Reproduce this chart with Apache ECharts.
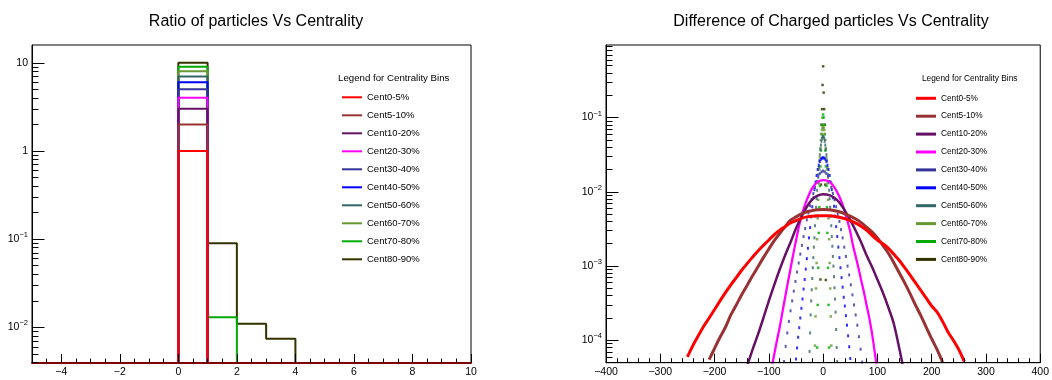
<!DOCTYPE html>
<html><head><meta charset="utf-8">
<script src="https://cdn.jsdelivr.net/npm/echarts@6/dist/echarts.min.js"></script>
<style>html,body{margin:0;padding:0;background:#fff}#c{width:1052px;height:380px}</style>
</head><body><div id="c"></div>
<script>
// ---------- categories & colours ----------
const centralityBins = ['Cent0-5%','Cent5-10%','Cent10-20%','Cent20-30%','Cent30-40%','Cent40-50%','Cent50-60%','Cent60-70%','Cent70-80%','Cent80-90%'];
const centralityColors = ['#ff0000','#993333','#661166','#ff00ff','#333399','#0000ff','#336666','#669933','#00aa00','#333300'];

// ---------- left panel: ratio histograms (bins of width 1 from -5 to 10) ----------
const ratioBinEdges = [-5,-4,-3,-2,-1,0,1,2,3,4,5,6,7,8,9,10];
const ratioCent0_5   = [0,0,0,0,0,1,0,0,0,0,0,0,0,0,0];
const ratioCent5_10  = [0,0,0,0,0,2,0,0,0,0,0,0,0,0,0];
const ratioCent10_20 = [0,0,0,0,0,3,0,0,0,0,0,0,0,0,0];
const ratioCent20_30 = [0,0,0,0,0,4,0,0,0,0,0,0,0,0,0];
const ratioCent30_40 = [0,0,0,0,0,5,0,0,0,0,0,0,0,0,0];
const ratioCent40_50 = [0,0,0,0,0,6,0,0,0,0,0,0,0,0,0];
const ratioCent50_60 = [0,0,0,0,0,7,0,0,0,0,0,0,0,0,0];
const ratioCent60_70 = [0,0,0,0,0,8,0,0,0,0,0,0,0,0,0];
const ratioCent70_80 = [0,0,0,0,0,9,0.013,0,0,0,0,0,0,0,0];
const ratioCent80_90 = [0,0,0,0,0,10,0.09,0.011,0.0074,0,0,0,0,0,0];
const ratioValues = [ratioCent0_5,ratioCent5_10,ratioCent10_20,ratioCent20_30,ratioCent30_40,ratioCent40_50,ratioCent50_60,ratioCent60_70,ratioCent70_80,ratioCent80_90];

const ratioXLabels = [-4,-2,0,2,4,6,8,10];
const ratioXMinorTicks = [-5,-4.5,-3.5,-3,-2.5,-1.5,-1,-0.5,0.5,1,1.5,2.5,3,3.5,4.5,5,5.5,6.5,7,7.5,8.5,9,9.5];
const ratioYLabels = [0.01,0.1,1,10];
const ratioYMinorTicks = [0.004,0.005,0.006,0.007,0.008,0.009,0.02,0.03,0.04,0.05,0.06,0.07,0.08,0.09,0.2,0.3,0.4,0.5,0.6,0.7,0.8,0.9,2,3,4,5,6,7,8,9];

// ---------- right panel: difference of charged particles ----------
const diffX_c0 = [-250,-240,-230,-220,-210,-200,-190,-180,-170,-160,-150,-140,-130,-120,-110,-100,-90,-80,-70,-60,-50,-40,-30,-20,-10,0,10,20,30,40,50,60,70,80,90,100,110,120,130,140,150,160,170,180,190,200,210,220,230,240,250,260];
const diffY_c0 = [6.0e-5,8.5e-5,1.15e-4,1.55e-4,2.0e-4,2.6e-4,3.4e-4,4.4e-4,5.6e-4,7.0e-4,8.8e-4,1.08e-3,1.32e-3,1.6e-3,1.9e-3,2.25e-3,2.65e-3,3.05e-3,3.4e-3,3.8e-3,4.1e-3,4.4e-3,4.6e-3,4.7e-3,4.75e-3,4.75e-3,4.75e-3,4.7e-3,4.55e-3,4.35e-3,4.1e-3,3.8e-3,3.45e-3,3.05e-3,2.6e-3,2.25e-3,2.0e-3,1.75e-3,1.45e-3,1.2e-3,9.6e-4,7.6e-4,6.0e-4,4.7e-4,3.7e-4,2.9e-4,2.4e-4,1.8e-4,1.3e-4,1.0e-4,7.5e-5,5.2e-5];
const diffX_c5 = [-210,-200,-190,-180,-170,-160,-150,-140,-130,-120,-110,-100,-90,-80,-70,-60,-50,-40,-30,-20,-10,0,10,20,30,40,50,60,70,80,90,100,110,120,130,140,150,160,170,180,190,200,210,220];
const diffY_c5 = [5.5e-5,7.8e-5,1.1e-4,1.5e-4,2.2e-4,3.0e-4,4.1e-4,5.5e-4,7.4e-4,9.8e-4,1.3e-3,1.7e-3,2.2e-3,2.75e-3,3.4e-3,4.15e-3,4.6e-3,5.05e-3,5.4e-3,5.6e-3,5.75e-3,5.8e-3,5.75e-3,5.6e-3,5.4e-3,5.05e-3,4.7e-3,4.3e-3,3.85e-3,3.35e-3,2.9e-3,2.4e-3,1.9e-3,1.5e-3,1.12e-3,8.2e-4,6.0e-4,4.3e-4,3.0e-4,2.15e-4,1.5e-4,1.05e-4,7.5e-5,5.1e-5];
const diffX_c10 = [-140,-130,-120,-110,-100,-90,-80,-70,-60,-50,-40,-30,-20,-10,0,10,20,30,40,50,60,70,80,90,100,110,120,130,140,150];
const diffY_c10 = [4.5e-5,7.5e-5,1.2e-4,2.0e-4,3.4e-4,5.6e-4,9.0e-4,1.4e-3,2.1e-3,3.2e-3,4.6e-3,6.3e-3,7.9e-3,8.9e-3,9.3e-3,9.1e-3,8.4e-3,7.2e-3,5.6e-3,4.2e-3,3.0e-3,2.1e-3,1.4e-3,9.8e-4,6.6e-4,4.4e-4,2.8e-4,1.7e-4,8.0e-5,3.5e-5];
const diffX_c20 = [-95,-90,-85,-80,-75,-70,-65,-60,-55,-50,-45,-40,-35,-30,-25,-20,-15,-10,-5,0,5,10,15,20,25,30,35,40,45,50,55,60,65,70,75,80,85,90,95,100];
const diffY_c20 = [4.2e-5,6.5e-5,1.0e-4,1.5e-4,2.4e-4,3.8e-4,6.0e-4,9.3e-4,1.45e-3,2.2e-3,3.3e-3,4.7e-3,6.2e-3,7.8e-3,9.5e-3,1.12e-2,1.26e-2,1.36e-2,1.42e-2,1.44e-2,1.43e-2,1.39e-2,1.30e-2,1.17e-2,1.02e-2,8.6e-3,7.0e-3,5.4e-3,4.0e-3,2.9e-3,1.9e-3,1.35e-3,9.5e-4,6.5e-4,4.5e-4,3.0e-4,2.0e-4,1.25e-4,7.0e-5,3.8e-5];
const diffX_c30 = [-72,-69,-66,-63,-60,-57,-54,-51,-48,-45,-42,-39,-36,-33,-30,-27,-24,-21,-18,-15,-12,-9,-6,-3,0,3,6,9,12,15,18,21,24,27,30,33,36,39,42,45,48,51,54,57,60,63,66,69,72];
const diffY_c30 = [5.2e-5,8.3e-5,1.26e-4,1.8e-4,2.5e-4,3.4e-4,4.6e-4,6.2e-4,8.3e-4,1.1e-3,1.45e-3,1.9e-3,2.5e-3,3.2e-3,4.2e-3,5.2e-3,6.5e-3,7.9e-3,9.5e-3,1.15e-2,1.38e-2,1.58e-2,1.76e-2,1.86e-2,1.91e-2,1.86e-2,1.76e-2,1.58e-2,1.38e-2,1.15e-2,9.5e-3,7.8e-3,6.3e-3,5.0e-3,4.0e-3,3.1e-3,2.4e-3,1.8e-3,1.35e-3,1.0e-3,7.6e-4,5.6e-4,4.1e-4,3.0e-4,2.2e-4,1.6e-4,1.12e-4,7.6e-5,5.1e-5];
const diffX_c40 = [-50,-48,-46,-44,-42,-40,-38,-36,-34,-32,-30,-28,-26,-24,-22,-20,-18,-16,-14,-12,-10,-8,-6,-4,-2,0,2,4,6,8,10,12,14,16,18,20,22,24,26,28,30,32,34,36,38,40,42,44,46,48,50];
const diffY_c40 = [5.6e-5,7.9e-5,1.1e-4,1.48e-4,2.0e-4,2.7e-4,3.6e-4,4.9e-4,6.6e-4,9.1e-4,1.26e-3,1.74e-3,2.4e-3,3.3e-3,4.6e-3,6.3e-3,8.3e-3,1.07e-2,1.35e-2,1.66e-2,2.0e-2,2.29e-2,2.57e-2,2.75e-2,2.85e-2,2.88e-2,2.85e-2,2.75e-2,2.57e-2,2.29e-2,2.0e-2,1.66e-2,1.35e-2,1.07e-2,8.3e-3,6.4e-3,4.7e-3,3.4e-3,2.5e-3,1.8e-3,1.3e-3,9.5e-4,7.0e-4,5.2e-4,3.8e-4,2.9e-4,2.15e-4,1.6e-4,1.15e-4,8.2e-5,5.7e-5];
const diffX_c50 = [-25,-24,-23,-22,-21,-20,-19,-18,-17,-16,-15,-14,-13,-12,-11,-10,-9,-8,-7,-6,-5,-4,-3,-2,-1,0,1,2,3,4,5,6,7,8,9,10,11,12,13,14,15,16,17,18,19,20,21,22,23,24,25,26];
const diffY_c50 = [7.1e-5,1.26e-4,2.2e-4,3.4e-4,4.8e-4,6.8e-4,9.5e-4,1.3e-3,1.8e-3,2.4e-3,3.5e-3,4.7e-3,6.2e-3,8.1e-3,1.05e-2,1.35e-2,1.7e-2,2.14e-2,2.63e-2,3.16e-2,3.72e-2,4.27e-2,4.8e-2,5.25e-2,5.5e-2,5.6e-2,5.5e-2,5.25e-2,4.8e-2,4.27e-2,3.72e-2,3.16e-2,2.63e-2,2.14e-2,1.7e-2,1.35e-2,1.05e-2,8.1e-3,6.2e-3,4.7e-3,3.5e-3,2.5e-3,1.85e-3,1.35e-3,1.0e-3,7.2e-4,5.1e-4,3.6e-4,2.4e-4,1.4e-4,8.0e-5,5.2e-5];
const diffX_c60 = [-15,-14,-13,-12,-11,-10,-9,-8,-7,-6,-5,-4,-3,-2,-1,0,1,2,3,4,5,6,7,8,9,10,11,12,13,14,15];
const diffY_c60 = [8.5e-5,2.1e-4,5.0e-4,1.1e-3,2.3e-3,4.4e-3,7.8e-3,1.3e-2,2.0e-2,2.9e-2,3.9e-2,5.0e-2,6.0e-2,6.8e-2,7.3e-2,7.5e-2,7.3e-2,6.8e-2,6.0e-2,5.0e-2,3.9e-2,2.9e-2,2.0e-2,1.3e-2,7.8e-3,4.4e-3,2.3e-3,1.1e-3,5.0e-4,2.1e-4,8.5e-5];
const diffX_c70 = [-11,-10,-9,-8,-7,-6,-5,-4,-3,-2,-1,0,1,2,3,4,5,6,7,8,9,10,11];
const diffY_c70 = [8.0e-5,3.0e-4,9.5e-4,2.8e-3,6.2e-3,1.2e-2,2.2e-2,3.6e-2,6.0e-2,8.0e-2,1.0e-1,1.1e-1,1.0e-1,8.0e-2,6.0e-2,3.6e-2,2.2e-2,1.2e-2,6.2e-3,2.8e-3,9.5e-4,3.0e-4,8.0e-5];
const diffX_c80 = [-5,-4,-3,-2,-1,0,1,2,3,4,5];
const diffY_c80 = [6.6e-4,1.25e-2,8.0e-2,1.3e-1,2.75e-1,4.9e-1,2.17e-1,1.3e-1,8.0e-2,1.25e-2,6.5e-4];
const diffXs = [diffX_c0,diffX_c5,diffX_c10,diffX_c20,diffX_c30,diffX_c40,diffX_c50,diffX_c60,diffX_c70,diffX_c80];
const diffYs = [diffY_c0,diffY_c5,diffY_c10,diffY_c20,diffY_c30,diffY_c40,diffY_c50,diffY_c60,diffY_c70,diffY_c80];

const diffXLabels = [-400,-300,-200,-100,0,100,200,300,400];
const diffXMinorTicks = [-380,-360,-340,-320,-280,-260,-240,-220,-180,-160,-140,-120,-80,-60,-40,-20,20,40,60,80,120,140,160,180,220,240,260,280,320,340,360,380];
const diffYLabels = [1e-4,1e-3,1e-2,1e-1];
const diffYMinorTicks = [6e-5,7e-5,8e-5,9e-5,2e-4,3e-4,4e-4,5e-4,6e-4,7e-4,8e-4,9e-4,2e-3,3e-3,4e-3,5e-3,6e-3,7e-3,8e-3,9e-3,2e-2,3e-2,4e-2,5e-2,6e-2,7e-2,8e-2,9e-2,0.2,0.3,0.4,0.5,0.6,0.7,0.8,0.9];

// ---------- build ----------
const FONT = 'Liberation Sans';
const leftYMin = 0.00394, leftYMax = 15.9;
const rightYMin = 5e-5, rightYMax = 0.95;

function histOutline(edges, vals, floor) {
  const pts = [];
  for (let i = 0; i < vals.length; i++) {
    const v = vals[i] > 0 ? vals[i] : floor;
    pts.push([edges[i], v], [edges[i + 1], v]);
  }
  return pts;
}
function minusFmt(v) { return String(v).replace('-', '\u2212'); }
function logFmt(v) {
  const e = Math.round(Math.log10(v));
  if (e === 0) return '1';
  if (e === 1) return '10';
  return '10{s|\u2212' + (-e) + '}';
}
const labelStyle = { fontFamily: FONT, fontSize: 10.5, color: '#000' };

function xAxes(grid, min, max, labels, minor, majorLine) {
  return [
    { gridIndex: grid, type: 'value', min, max, position: 'bottom', z: 5,
      axisLine: { show: true, onZero: false, lineStyle: majorLine },
      axisTick: { show: true, inside: true, length: 9, customValues: labels, lineStyle: { color: '#000', width: 1 } },
      axisLabel: Object.assign({ customValues: labels, margin: 4, formatter: minusFmt, showMinLabel: true, showMaxLabel: true }, labelStyle),
      splitLine: { show: false } },
    { gridIndex: grid, type: 'value', min, max, position: 'bottom', z: 5,
      axisLine: { show: false, onZero: false },
      axisTick: { show: true, inside: true, length: 4.5, customValues: minor, lineStyle: { color: '#000', width: 1 } },
      axisLabel: { show: false }, splitLine: { show: false } }
  ];
}
function yAxes(grid, min, max, labels, minor) {
  return [
    { gridIndex: grid, type: 'log', logBase: 10, min, max, position: 'left', z: 5,
      axisLine: { show: true, onZero: false, lineStyle: { color: '#000', width: 1 } },
      axisTick: { show: true, inside: true, length: 12.5, customValues: labels, lineStyle: { color: '#000', width: 1 } },
      axisLabel: Object.assign({ customValues: labels, margin: 4, formatter: logFmt, lineHeight: 16,
        rich: { s: { fontFamily: FONT, fontSize: 7.5, color: '#000', verticalAlign: 'top', lineHeight: 16 } } }, labelStyle),
      splitLine: { show: false } },
    { gridIndex: grid, type: 'log', logBase: 10, min, max, position: 'left', z: 5,
      axisLine: { show: false, onZero: false },
      axisTick: { show: true, inside: true, length: 6.5, customValues: minor, lineStyle: { color: '#000', width: 1 } },
      axisLabel: { show: false }, splitLine: { show: false } }
  ];
}

const series = [];
// draw peripheral first, central last (red on top)
for (let k = centralityBins.length - 1; k >= 0; k--) {
  series.push({
    name: centralityBins[k], type: 'line', xAxisIndex: 0, yAxisIndex: 0,
    data: histOutline(ratioBinEdges, ratioValues[k], leftYMin),
    showSymbol: false, symbol: 'none', clip: true, animation: false,
    lineStyle: { color: centralityColors[k], width: 2 }, itemStyle: { color: centralityColors[k] }
  });
}
const lineIdx = [0, 1, 2, 3];
const lineWidths = [3, 3, 2.5, 2.3];
for (let k = centralityBins.length - 1; k >= 0; k--) {
  const data = diffXs[k].map((x, i) => [x, diffYs[k][i]]);
  if (lineIdx.includes(k)) {
    series.push({
      name: centralityBins[k], type: 'line', xAxisIndex: 2, yAxisIndex: 2, data,
      showSymbol: false, symbol: 'none', clip: true, animation: false, smooth: 0.3,
      lineStyle: { color: centralityColors[k], width: lineWidths[k] }, itemStyle: { color: centralityColors[k] }
    });
  } else {
    series.push({
      name: centralityBins[k], type: 'scatter', xAxisIndex: 2, yAxisIndex: 2, data,
      symbol: 'rect', symbolSize: k >= 7 ? [2.5, 2.5] : [2, 3], clip: true, animation: false,
      itemStyle: { color: centralityColors[k] }
    });
  }
}

const titleStyle = { fontFamily: FONT, fontSize: 16, fontWeight: 'normal', color: '#000' };
const option = {
  backgroundColor: '#fff',
  animation: false,
  title: [
    { text: 'Ratio of particles Vs Centrality', left: 251, top: 9, textAlign: 'center', textStyle: titleStyle },
    { text: 'Difference of Charged particles Vs Centrality', left: 826, top: 9, textAlign: 'center', textStyle: titleStyle },
    { text: 'Legend for Centrality Bins', left: 333, top: 68, textStyle: { fontFamily: FONT, fontSize: 9.7, fontWeight: 'normal', color: '#000' } },
    { text: 'Legend for Centrality Bins', left: 917, top: 69.5, textStyle: { fontFamily: FONT, fontSize: 8.3, fontWeight: 'normal', color: '#000' } }
  ],
  legend: [
    { data: centralityBins, orient: 'vertical', left: 337, top: 86.3, itemWidth: 20, itemHeight: 2, itemGap: 6, icon: 'rect',
      selectedMode: false, itemStyle: { borderWidth: 0 },
      textStyle: { fontFamily: FONT, fontSize: 9.5, lineHeight: 12, color: '#000' } },
    { data: centralityBins, orient: 'vertical', left: 911, top: 87.3, itemWidth: 20, itemHeight: 3, itemGap: 5.9, icon: 'rect',
      selectedMode: false, itemStyle: { borderWidth: 0 },
      textStyle: { fontFamily: FONT, fontSize: 8.3, lineHeight: 12, color: '#000' } }
  ],
  grid: [
    { left: 32, right: 581, top: 45, bottom: 17, show: true, borderColor: '#000', borderWidth: 1, backgroundColor: 'transparent' },
    { left: 606, right: 7, top: 45, bottom: 17.3, show: true, borderColor: '#000', borderWidth: 1, backgroundColor: 'transparent' }
  ],
  xAxis: [].concat(
    xAxes(0, -5, 10, ratioXLabels, ratioXMinorTicks, { color: '#800000', width: 2 }),
    xAxes(1, -400, 400, diffXLabels, diffXMinorTicks, { color: '#000', width: 1 })
  ),
  yAxis: [].concat(
    yAxes(0, leftYMin, leftYMax, ratioYLabels, ratioYMinorTicks),
    yAxes(1, rightYMin, rightYMax, diffYLabels, diffYMinorTicks)
  ),
  series
};
const chart = echarts.init(document.getElementById('c'), null, { renderer: 'canvas' });
chart.setOption(option);
</script></body></html>
